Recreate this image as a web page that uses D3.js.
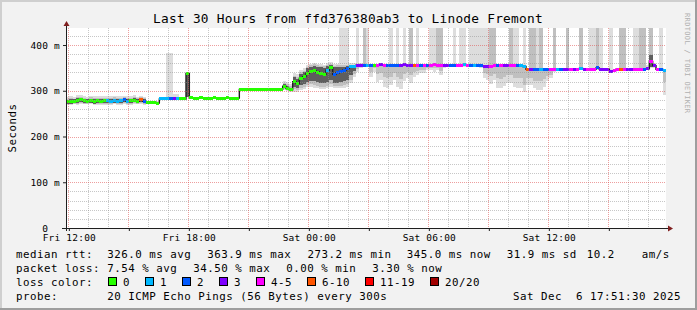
<!DOCTYPE html>
<html>
<head>
<meta charset="utf-8">
<script src="https://cdn.jsdelivr.net/npm/d3@7"></script>
<style>
  body { margin: 0; background: #f2f2f2; }
  svg { display: block; }
  text { font-family: "DejaVu Sans Mono", monospace; fill: #000; white-space: pre; }
  .title { font-size: 12.8px; letter-spacing: 0.25px; }
  .axis text { font-size: 9.5px; letter-spacing: 0.2px; }
  .legend { font-size: 10.8px; letter-spacing: 0.5px; }
  .mark { font-size: 7px; letter-spacing: 0.35px; fill: #b0b0b0; }
</style>
</head>
<body>
<svg id="chart" width="697" height="310"></svg>
<script>
const title = 'Last 30 Hours from ffd376380ab3 to Linode Fremont';
const yLabel = 'Seconds';
const watermark = 'RRDTOOL / TOBI OETIKER';

const startTime = new Date(2025, 11, 5, 11, 51, 30);
const endTime = new Date(2025, 11, 6, 17, 51, 30);
const stepMinutes = 10;

const yTicks = [0, 100, 200, 300, 400];
const yTickLabels = ['0', '100 m', '200 m', '300 m', '400 m'];
const xTickTimes = [
  new Date(2025, 11, 5, 12), new Date(2025, 11, 5, 18),
  new Date(2025, 11, 6, 0), new Date(2025, 11, 6, 6), new Date(2025, 11, 6, 12)
];
const xTickLabels = ['Fri 12:00', 'Fri 18:00', 'Sat 00:00', 'Sat 06:00', 'Sat 12:00'];

// median rtt (ms), one value per 10 minutes
const median = [
  276, 277, 277, 279, 280, 278, 277, 279, 276, 278, 277, 279, 278, 277, 279, 277, 278, 280,
  277, 278, 279, 277, 280, 277, 274, 274, 275, 273, 282, 282, 283, 282, 282, 283, 282, 282,
  338, 285, 284, 284, 285, 284, 284, 284, 285, 284, 284, 284, 285, 284, 284, 284, 303, 303,
  303, 303, 303, 303, 303, 303, 303, 303, 303, 303, 303, 310, 305, 302, 320, 316, 327, 331,
  338, 343, 344, 341, 338, 336, 345, 350, 336, 339, 342, 345, 349, 352, 354, 356, 356, 356,
  356, 355, 356, 356, 357, 356, 356, 355, 356, 356, 356, 357, 356, 356, 355, 356, 356, 356,
  356, 356, 357, 356, 356, 355, 355, 356, 356, 356, 356, 357, 356, 356, 356, 356, 355, 354,
  354, 354, 355, 356, 356, 356, 356, 356, 355, 355, 355, 353, 347, 347, 346, 347, 347, 347,
  347, 347, 347, 347, 346, 347, 347, 347, 346, 347, 349, 347, 347, 347, 347, 350, 347, 347,
  347, 343, 344, 347, 347, 347, 347, 346, 347, 347, 347, 347, 348, 364, 355, 347, 347, 345
];

// lost pings out of 20
const loss = [
  0, 0, 0, 0, 0, 0, 0, 0, 0, 0, 0, 0, 1, 1, 1, 1, 1, 2,
  1, 0, 0, 0, 6, 2, 0, 0, 0, 0, 1, 1, 1, 2, 3, 1, 0, 0,
  0, 0, 0, 0, 0, 0, 0, 0, 0, 0, 0, 0, 0, 0, 0, 0, 0, 0,
  0, 0, 0, 0, 0, 0, 0, 0, 0, 0, 0, 0, 0, 0, 0, 0, 0, 0,
  0, 0, 0, 0, 0, 0, 1, 0, 2, 2, 2, 2, 2, 1, 1, 3, 3, 2,
  1, 2, 0, 4, 3, 4, 2, 2, 2, 2, 3, 3, 3, 3, 6, 4, 2, 4,
  2, 4, 4, 4, 4, 3, 3, 2, 2, 4, 4, 1, 4, 2, 1, 2, 2, 3,
  3, 4, 4, 2, 4, 3, 3, 4, 4, 2, 1, 1, 6, 3, 2, 2, 1, 2,
  2, 4, 4, 1, 2, 3, 3, 4, 3, 4, 1, 3, 4, 4, 4, 2, 3, 3,
  3, 3, 4, 4, 6, 4, 3, 3, 4, 4, 4, 2, 3, 4, 3, 4, 2, 1
];

// smoke: spread of the pings above / below the median (ms)
const smokeUp = [
  10, 11, 9, 12, 10, 11, 9, 10, 12, 10, 11, 9, 10, 11, 10, 12, 10, 9,
  11, 10, 12, 10, 9, 10, 4, 4, 3, 4, 5, 4, 100, 100, 10, 9, 4, 3,
  4, 2, 3, 2, 3, 2, 2, 3, 2, 2, 3, 2, 2, 2, 3, 2, 2, 1,
  1, 1, 1, 1, 1, 1, 1, 1, 1, 1, 2, 12, 14, 12, 18, 20, 18, 18,
  18, 16, 16, 18, 20, 21, 15, 12, 22, 20, 100, 100, 100, 8, 6, 100, 4, 100,
  100, 2, 2, 3, 2, 3, 2, 100, 3, 100, 3, 100, 3, 100, 3, 100, 3, 2,
  3, 100, 100, 100, 100, 4, 2, 3, 100, 3, 100, 100, 2, 100, 100, 100, 100, 100,
  100, 100, 100, 3, 2, 3, 3, 100, 100, 100, 3, 100, 3, 100, 100, 100, 100, 3,
  2, 3, 100, 2, 3, 2, 100, 2, 3, 2, 100, 3, 2, 100, 100, 100, 100, 2,
  3, 100, 2, 3, 100, 100, 3, 2, 100, 100, 100, 100, 8, 100, 5, 2, 100, 2
];
const smokeDown = [
  8, 9, 7, 10, 9, 8, 7, 9, 8, 9, 8, 10, 9, 8, 9, 8, 9, 10,
  8, 9, 8, 7, 10, 8, 2, 2, 2, 1, 3, 3, 2, 3, 3, 2, 2, 2,
  52, 1, 1, 0, 1, 0, 0, 1, 0, 0, 1, 0, 0, 0, 1, 0, 0, 0,
  0, 0, 0, 0, 0, 0, 0, 0, 0, 0, 0, 8, 6, 4, 22, 18, 26, 28,
  30, 34, 38, 36, 34, 32, 40, 42, 30, 33, 36, 38, 40, 35, 25, 15, 7, 3,
  3, 25, 14, 36, 33, 47, 51, 42, 33, 47, 53, 36, 29, 40, 25, 22, 18, 18,
  10, 10, 15, 11, 22, 6, 4, 3, 2, 4, 3, 5, 2, 3, 4, 2, 6, 27,
  31, 39, 31, 50, 51, 45, 40, 40, 47, 50, 50, 55, 34, 34, 41, 45, 45, 38,
  26, 20, 5, 3, 2, 3, 4, 2, 3, 2, 3, 2, 3, 2, 3, 4, 2, 3,
  2, 4, 3, 2, 3, 2, 3, 2, 2, 3, 2, 2, 3, 14, 6, 2, 3, 55
];
const midUp = [
  7, 8, 6, 8, 7, 7, 6, 7, 8, 7, 8, 6, 7, 8, 7, 8, 7, 6,
  8, 7, 8, 7, 6, 7, 2, 2, 2, 2, 2, 2, 2, 2, 5, 4, 2, 1,
  2, 0, 0, 0, 0, 0, 0, 0, 0, 0, 0, 0, 0, 0, 0, 0, 0, 0,
  0, 0, 0, 0, 0, 0, 0, 0, 0, 0, 0, 8, 9, 8, 13, 14, 13, 13,
  15, 14, 14, 16, 17, 18, 12, 9, 19, 17, 14, 11, 8, 5, 3, 2, 2, 100,
  2, 1, 1, 2, 1, 2, 1, 2, 2, 2, 2, 2, 2, 100, 2, 2, 2, 1,
  2, 2, 2, 100, 100, 2, 1, 1, 2, 1, 2, 2, 1, 2, 2, 2, 2, 2,
  2, 100, 100, 2, 1, 2, 2, 100, 2, 2, 2, 2, 2, 100, 100, 2, 100, 2,
  1, 2, 100, 1, 2, 1, 100, 1, 2, 1, 100, 2, 1, 2, 2, 100, 2, 1,
  2, 2, 1, 2, 100, 100, 2, 1, 2, 2, 100, 100, 5, 100, 3, 1, 2, 1
];
const midDown = [
  6, 6, 5, 7, 6, 6, 5, 6, 6, 6, 6, 7, 6, 6, 6, 6, 6, 7,
  6, 6, 6, 5, 7, 6, 1, 1, 1, 1, 2, 2, 1, 2, 2, 1, 1, 1,
  52, 0, 0, 0, 0, 0, 0, 0, 0, 0, 0, 0, 0, 0, 0, 0, 0, 0,
  0, 0, 0, 0, 0, 0, 0, 0, 0, 0, 0, 6, 4, 3, 16, 14, 20, 22,
  26, 29, 32, 31, 30, 28, 34, 36, 26, 29, 31, 32, 34, 28, 18, 9, 4, 2,
  2, 14, 7, 20, 18, 26, 28, 24, 18, 26, 30, 20, 16, 22, 14, 12, 10, 10,
  6, 6, 8, 6, 12, 3, 2, 2, 1, 2, 2, 3, 1, 2, 2, 1, 3, 15,
  18, 22, 18, 28, 30, 26, 22, 22, 27, 28, 28, 40, 20, 20, 24, 26, 26, 22,
  15, 12, 3, 2, 1, 2, 2, 1, 2, 1, 2, 1, 2, 1, 2, 2, 1, 2,
  1, 3, 2, 1, 2, 1, 2, 1, 1, 2, 1, 1, 2, 10, 4, 1, 2, 25
];
const coreUp = [
  4, 5, 4, 5, 4, 5, 4, 4, 5, 4, 5, 4, 4, 5, 4, 5, 4, 4,
  5, 4, 5, 4, 4, 4, 0, 0, 0, 0, 1, 1, 1, 1, 2, 2, 1, 0,
  0, 0, 0, 0, 0, 0, 0, 0, 0, 0, 0, 0, 0, 0, 0, 0, 0, 0,
  0, 0, 0, 0, 0, 0, 0, 0, 0, 0, 0, 5, 6, 5, 9, 10, 9, 9,
  11, 10, 11, 12, 13, 14, 9, 6, 15, 13, 10, 8, 5, 3, 1, 0, 0, 0,
  0, 0, 0, 0, 0, 0, 0, 0, 0, 0, 0, 0, 0, 0, 0, 0, 0, 0,
  0, 0, 0, 0, 0, 0, 0, 0, 0, 0, 0, 0, 0, 0, 0, 0, 0, 0,
  0, 0, 0, 0, 0, 0, 0, 0, 0, 0, 0, 0, 0, 0, 0, 0, 0, 0,
  0, 0, 0, 0, 0, 0, 0, 0, 0, 0, 0, 0, 0, 0, 0, 0, 0, 0,
  0, 0, 0, 0, 0, 0, 0, 0, 0, 0, 0, 0, 3, 15, 2, 0, 0, 0
];
const coreDown = [
  4, 5, 4, 5, 4, 4, 4, 5, 4, 4, 4, 5, 4, 4, 5, 4, 4, 5,
  4, 4, 4, 4, 5, 4, 0, 0, 0, 0, 1, 1, 1, 1, 1, 1, 0, 0,
  52, 0, 0, 0, 0, 0, 0, 0, 0, 0, 0, 0, 0, 0, 0, 0, 0, 0,
  0, 0, 0, 0, 0, 0, 0, 0, 0, 0, 0, 4, 3, 2, 11, 10, 14, 16,
  18, 21, 23, 22, 21, 19, 25, 27, 18, 21, 23, 24, 25, 18, 10, 4, 1, 0,
  0, 0, 0, 0, 0, 0, 0, 0, 0, 0, 0, 0, 0, 0, 0, 0, 0, 0,
  0, 0, 0, 0, 0, 0, 0, 0, 0, 0, 0, 0, 0, 0, 0, 0, 0, 0,
  0, 0, 0, 0, 0, 0, 0, 0, 0, 0, 0, 0, 0, 0, 0, 0, 0, 0,
  0, 0, 0, 0, 0, 0, 0, 0, 0, 0, 0, 0, 0, 0, 0, 0, 0, 0,
  0, 0, 0, 0, 0, 0, 0, 0, 0, 0, 0, 0, 0, 12, 0, 0, 0, 0
];

const lossLabels = ['0', '1', '2', '3', '4-5', '6-10', '11-19', '20/20'];
const lossColors = ['#26ff00', '#00b8ff', '#0059ff', '#7e00ff', '#ff00ff', '#ff5500', '#ff0000', '#a10000'];
const lossBreaks = [1, 2, 3, 4, 6, 11, 20];

const statRows = [
  ['median rtt:', '326.0 ms avg', '363.9 ms max', '273.2 ms min', '345.0 ms now', '31.9 ms sd', '10.2', 'am/s'],
  ['packet loss:', '7.54 % avg', '34.50 % max', '0.00 % min', '3.30 % now']
];
const lossTitle = 'loss color:';
const probeRow = ['probe:', '20 ICMP Echo Pings (56 Bytes) every 300s'];
const stamp = 'Sat Dec  6 17:51:30 2025';

// ---- layout ----
const W = 697, H = 310;
const plot = { left: 66, right: 666, top: 28, bottom: 228 };
const yMax = 437.2;
const charW = 7;
const statX = [[16, 107.3, 207.3, 307.5, 406.7, 506.7, 586.7, 641.7], [16, 107.3, 193.3, 286.3, 372.3]];
const rowY = [257.5, 271.7, 285.9, 300.1];

const svg = d3.select('#chart');
const x = d3.scaleTime().domain([startTime, endTime]).range([plot.left, plot.right]);
const y = d3.scaleLinear().domain([0, yMax]).range([plot.bottom, plot.top]);
const lossColor = d3.scaleThreshold().domain(lossBreaks).range(lossColors);

const points = median.map((m, i) => ({
  i, m, loss: loss[i],
  t0: d3.timeMinute.offset(startTime, i * stepMinutes),
  t1: d3.timeMinute.offset(startTime, (i + 1) * stepMinutes)
}));

// frame
svg.append('rect').attr('width', W).attr('height', H).attr('fill', '#f2f2f2');
svg.append('rect').attr('width', W).attr('height', 2).attr('fill', '#cfcfcf');
svg.append('rect').attr('width', 2).attr('height', H).attr('fill', '#cfcfcf');
svg.append('rect').attr('y', H - 2).attr('width', W).attr('height', 2).attr('fill', '#9e9e9e');
svg.append('rect').attr('x', W - 2).attr('width', 2).attr('height', H).attr('fill', '#9e9e9e');

svg.append('rect')
  .attr('x', plot.left).attr('y', plot.top)
  .attr('width', plot.right - plot.left).attr('height', plot.bottom - plot.top)
  .attr('fill', '#fff');

svg.append('defs').append('clipPath').attr('id', 'plot-clip')
  .append('rect')
  .attr('x', plot.left).attr('y', plot.top)
  .attr('width', plot.right - plot.left).attr('height', plot.bottom - plot.top);

const g = svg.append('g').attr('clip-path', 'url(#plot-clip)');

// smoke
const layers = [
  { up: smokeUp, down: smokeDown, fill: '#dddddd' },
  { up: midUp, down: midDown, fill: '#c0c0c0' },
  { up: coreUp, down: coreDown, fill: '#5e5e5e' }
];
layers.forEach(layer => {
  g.append('g').attr('shape-rendering', 'crispEdges')
    .selectAll('rect')
    .data(points.filter(p => layer.up[p.i] + layer.down[p.i] > 0))
    .join('rect')
    .attr('x', p => x(p.t0))
    .attr('width', p => x(p.t1) - x(p.t0))
    .attr('y', p => y(p.m + layer.up[p.i]))
    .attr('height', p => y(p.m - layer.down[p.i]) - y(p.m + layer.up[p.i]))
    .attr('fill', layer.fill);
});

// thin median line, then loss coloured band
const stepLine = d3.line().x(d => x(d[0])).y(d => y(d[1])).curve(d3.curveStepAfter);
g.append('path')
  .attr('d', stepLine(points.map(p => [p.t0, p.m]).concat([[endTime, median[median.length - 1]]])))
  .attr('fill', 'none').attr('stroke', '#202020').attr('stroke-width', 1.4);

g.append('g').attr('shape-rendering', 'crispEdges')
  .selectAll('rect')
  .data(points)
  .join('rect')
  .attr('x', p => x(p.t0))
  .attr('width', p => x(p.t1) - x(p.t0))
  .attr('y', p => y(p.m) - 1.5)
  .attr('height', 3)
  .attr('fill', p => lossColor(p.loss));

// grid on top
const hours = d3.timeHour.range(startTime, endTime);
const grid = svg.append('g').attr('shape-rendering', 'crispEdges').attr('stroke-dasharray', '1,1');
const vx = h => Math.floor(x(h)) + 0.5;
const hy = v => Math.round(y(v)) + 0.5;
grid.selectAll('line.vminor').data(hours.filter(h => h.getHours() % 3 !== 0)).join('line')
  .attr('x1', vx).attr('x2', vx).attr('y1', plot.top).attr('y2', plot.bottom)
  .attr('stroke', 'rgba(143,143,143,0.5)');
grid.selectAll('line.hminor').data(d3.range(20, yMax, 20).filter(v => v % 100 !== 0)).join('line')
  .attr('x1', plot.left).attr('x2', plot.right).attr('y1', hy).attr('y2', hy)
  .attr('stroke', 'rgba(143,143,143,0.5)');
grid.append('g').selectAll('line').data(hours.filter(h => h.getHours() % 3 === 0)).join('line')
  .attr('x1', vx).attr('x2', vx).attr('y1', plot.top).attr('y2', plot.bottom)
  .attr('stroke', 'rgba(222,79,79,0.55)');
grid.append('g').selectAll('line').data(yTicks.filter(v => v > 0)).join('line')
  .attr('x1', plot.left).attr('x2', plot.right).attr('y1', hy).attr('y2', hy)
  .attr('stroke', 'rgba(222,79,79,0.55)');

// axes
const yAxis = d3.axisLeft(y).tickValues(yTicks).tickSize(3).tickPadding(3)
  .tickFormat((d, i) => yTickLabels[i].includes(' ') ? yTickLabels[i] : yTickLabels[i] + '\u00a0\u00a0');
svg.append('g').attr('class', 'axis').attr('transform', `translate(${plot.left},0)`)
  .style('color', '#1f1f1f')
  .call(yAxis)
  .call(a => a.select('.domain').remove());

const xTicks = d3.axisBottom(x).tickValues(hours.filter(h => h.getHours() % 3 === 0))
  .tickSize(3).tickFormat('');
svg.append('g').attr('class', 'axis').attr('transform', `translate(0,${plot.bottom})`)
  .style('color', '#1f1f1f')
  .call(xTicks)
  .call(a => a.select('.domain').remove());

const xAxis = d3.axisBottom(x).tickValues(xTickTimes).tickSize(0).tickPadding(6.3)
  .tickFormat((d, i) => xTickLabels[i]);
svg.append('g').attr('class', 'axis').attr('transform', `translate(0,${plot.bottom})`)
  .call(xAxis)
  .call(a => a.select('.domain').remove());

svg.append('line').attr('x1', 66.5).attr('x2', 66.5).attr('y1', 231).attr('y2', 25)
  .attr('stroke', '#1f1f1f');
svg.append('line').attr('x1', 62).attr('x2', 669).attr('y1', 228.5).attr('y2', 228.5)
  .attr('stroke', '#1f1f1f');
svg.append('path').attr('d', 'M63.5,26L69.5,26L66.5,21Z').attr('fill', '#801f1f');
svg.append('path').attr('d', 'M668,225.5L668,231.5L673,228.5Z').attr('fill', '#801f1f');

// titles
svg.append('text').attr('class', 'title')
  .attr('x', 348).attr('y', 23.3).attr('text-anchor', 'middle').text(title);
svg.append('text').attr('class', 'legend')
  .attr('transform', `translate(15.5,${(plot.top + plot.bottom) / 2}) rotate(-90)`)
  .attr('text-anchor', 'middle').text(yLabel);
svg.append('text').attr('class', 'mark')
  .attr('transform', 'translate(685,13) rotate(90)').text(watermark);

// legend
statRows.forEach((row, r) => {
  row.forEach((s, k) => {
    svg.append('text').attr('class', 'legend')
      .attr('x', statX[r][k]).attr('y', rowY[r]).text(s);
  });
});

svg.append('text').attr('class', 'legend').attr('x', 16).attr('y', rowY[2]).text(lossTitle);
let lx = 108;
lossLabels.forEach((lab, k) => {
  svg.append('rect').attr('x', lx + 0.5).attr('y', 277.5).attr('width', 8).attr('height', 8)
    .attr('fill', lossColors[k]).attr('stroke', '#000');
  svg.append('text').attr('class', 'legend').attr('x', lx + 15).attr('y', rowY[2]).text(lab);
  lx += 15 + lab.length * charW + 15;
});

svg.append('text').attr('class', 'legend').attr('x', 16).attr('y', rowY[3]).text(probeRow[0]);
svg.append('text').attr('class', 'legend').attr('x', 107.3).attr('y', rowY[3]).text(probeRow[1]);
svg.append('text').attr('class', 'legend').attr('x', 681).attr('y', rowY[3])
  .attr('text-anchor', 'end').text(stamp);
</script>
</body>
</html>
